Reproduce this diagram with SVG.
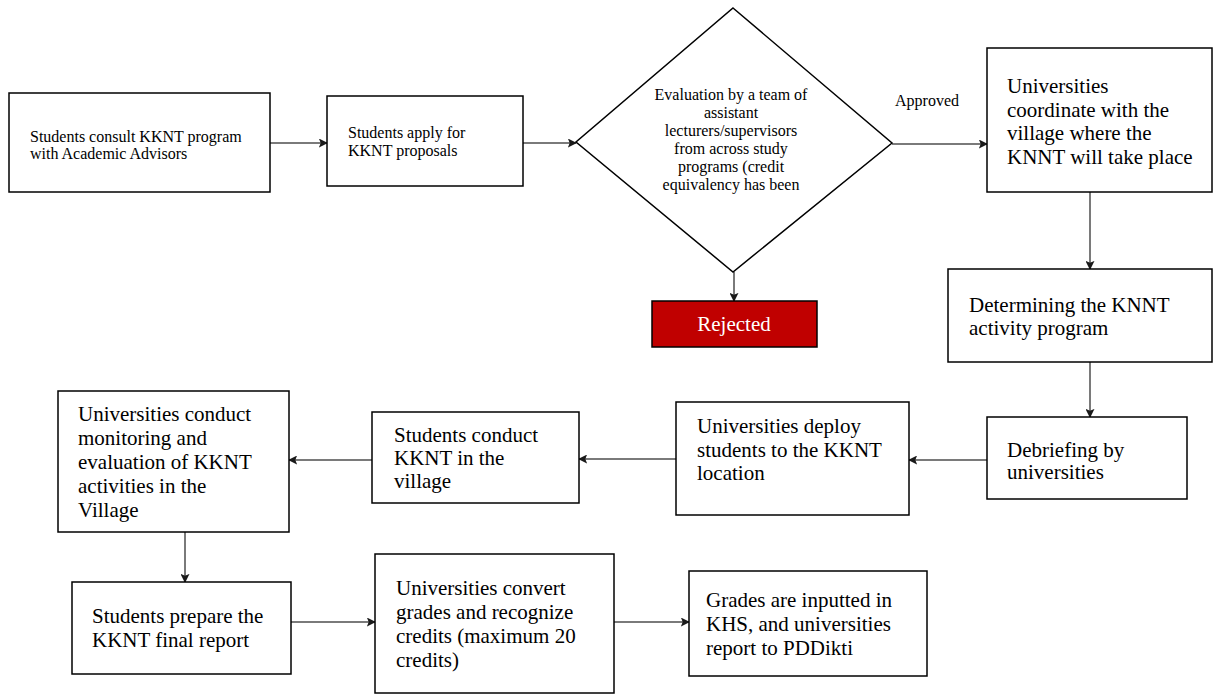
<svg xmlns="http://www.w3.org/2000/svg" width="1214" height="695" viewBox="0 0 1214 695">
<style>
.box{fill:#fff;stroke:#000;stroke-width:1.5}
.rej{fill:#c00000;stroke:#000;stroke-width:1.5}
.t{font-family:"Liberation Serif","Times New Roman",serif;fill:#000}
.s16{font-size:16px}
.s21{font-size:21px}
.c{text-anchor:middle}
.w{fill:#fff}
.conn line{stroke:#7a7a7a;stroke-width:2;marker-end:url(#ah)}
</style>
<defs>
<marker id="ah" viewBox="0 0 10 10" refX="9" refY="5" markerWidth="9" markerHeight="9" markerUnits="userSpaceOnUse" orient="auto">
<path d="M0,0 L10,5 L0,10 L2,5 z" fill="#1a1a1a"/>
</marker>
</defs>
<rect width="1214" height="695" fill="#fff"/>
<g id="connectors" class="conn">
<line x1="270" y1="143" x2="327" y2="143"/>
<line x1="523" y1="143" x2="576" y2="143"/>
<line x1="892" y1="144" x2="987" y2="144"/>
<line x1="734" y1="272" x2="734" y2="301"/>
<line x1="1090" y1="192" x2="1090" y2="269"/>
<line x1="1090" y1="362" x2="1090" y2="417"/>
<line x1="987" y1="460" x2="909" y2="460"/>
<line x1="676" y1="459" x2="579" y2="459"/>
<line x1="372" y1="460" x2="289" y2="460"/>
<line x1="185" y1="532" x2="185" y2="582"/>
<line x1="291" y1="622" x2="375" y2="622"/>
<line x1="614" y1="622" x2="689" y2="622"/>
</g>
<g id="approved-label">
<text class="t s16" x="895" y="106">Approved</text>
</g>
<g id="n1">
<rect class="box" x="9" y="93" width="261" height="99"/>
<text class="t s16" x="30" y="142">Students consult KKNT program</text>
<text class="t s16" x="30" y="159">with Academic Advisors</text>
</g>
<g id="n2">
<rect class="box" x="327" y="96" width="196" height="90"/>
<text class="t s16" x="348" y="138">Students apply for</text>
<text class="t s16" x="348" y="156">KKNT proposals</text>
</g>
<g id="n3">
<polygon class="box" points="733,8 892,143 733,272 576,142"/>
<text class="t s16 c" x="731" y="100">Evaluation by a team of</text>
<text class="t s16 c" x="731" y="118">assistant</text>
<text class="t s16 c" x="731" y="136">lecturers/supervisors</text>
<text class="t s16 c" x="731" y="154">from across study</text>
<text class="t s16 c" x="731" y="172">programs (credit</text>
<text class="t s16 c" x="731" y="190">equivalency has been</text>
</g>
<g id="n4">
<rect class="rej" x="652" y="301" width="165" height="46"/>
<text class="t s21 c w" x="734" y="331">Rejected</text>
</g>
<g id="n5">
<rect class="box" x="987" y="48" width="225" height="144"/>
<text class="t s21" x="1007" y="93">Universities</text>
<text class="t s21" x="1007" y="116.5">coordinate with the</text>
<text class="t s21" x="1007" y="140">village where the</text>
<text class="t s21" x="1007" y="163.5">KNNT will take place</text>
</g>
<g id="n6">
<rect class="box" x="948" y="269" width="264" height="93"/>
<text class="t s21" x="969" y="312">Determining the KNNT</text>
<text class="t s21" x="969" y="335">activity program</text>
</g>
<g id="n7">
<rect class="box" x="987" y="417" width="200" height="82"/>
<text class="t s21" x="1007" y="457">Debriefing by</text>
<text class="t s21" x="1007" y="479">universities</text>
</g>
<g id="n8">
<rect class="box" x="676" y="402" width="233" height="113"/>
<text class="t s21" x="697" y="433">Universities deploy</text>
<text class="t s21" x="697" y="456.5">students to the KKNT</text>
<text class="t s21" x="697" y="480">location</text>
</g>
<g id="n9">
<rect class="box" x="372" y="412" width="207" height="91"/>
<text class="t s21" x="394" y="442">Students conduct</text>
<text class="t s21" x="394" y="465">KKNT in the</text>
<text class="t s21" x="394" y="488">village</text>
</g>
<g id="n10">
<rect class="box" x="58" y="391" width="231" height="141"/>
<text class="t s21" x="78" y="421">Universities conduct</text>
<text class="t s21" x="78" y="445">monitoring and</text>
<text class="t s21" x="78" y="469">evaluation of KKNT</text>
<text class="t s21" x="78" y="493">activities in the</text>
<text class="t s21" x="78" y="517">Village</text>
</g>
<g id="n11">
<rect class="box" x="72" y="582" width="219" height="92"/>
<text class="t s21" x="92" y="623">Students prepare the</text>
<text class="t s21" x="92" y="647">KKNT final report</text>
</g>
<g id="n12">
<rect class="box" x="375" y="554" width="239" height="139"/>
<text class="t s21" x="396" y="595">Universities convert</text>
<text class="t s21" x="396" y="619">grades and recognize</text>
<text class="t s21" x="396" y="643">credits (maximum 20</text>
<text class="t s21" x="396" y="667">credits)</text>
</g>
<g id="n13">
<rect class="box" x="689" y="571" width="238" height="105"/>
<text class="t s21" x="706" y="607">Grades are inputted in</text>
<text class="t s21" x="706" y="631">KHS, and universities</text>
<text class="t s21" x="706" y="655">report to PDDikti</text>
</g>
</svg>
